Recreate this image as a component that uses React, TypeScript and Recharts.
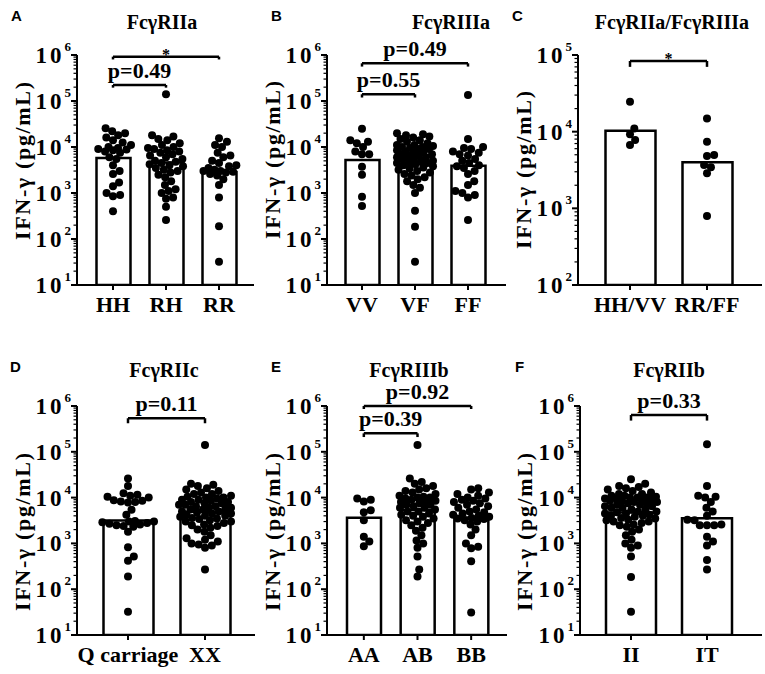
import React from "react";
import { ComposedChart, Bar, Scatter, XAxis, YAxis, ReferenceLine, Label } from "recharts";

const serif = "'Liberation Serif', 'Times New Roman', serif";
const sans = "'Liberation Sans', Arial, sans-serif";

// ---- data ----
const catsA = ["HH", "RH", "RR"];
const barsA = [5800, 4600, 2850];
const hhA = [25500, 22000, 20000, 18000, 16000, 14000, 12500, 11000, 10000, 9500, 9000, 8800, 8500, 8000, 7500, 6000, 5500, 4000, 3000, 2600, 1700, 1400, 1000, 900, 850, 400];
const rhA = [140000, 18000, 17000, 15000, 14000, 12000, 11000, 10000, 9500, 9000, 8500, 8000, 7500, 7000, 6500, 6000, 5500, 5000, 4800, 4500, 4200, 4000, 3800, 3500, 3200, 3000, 2800, 2500, 2200, 1800, 1500, 1200, 1100, 1000, 800, 750, 500, 260];
const rrA = [15500, 13000, 11000, 10000, 7500, 6500, 6000, 5000, 4500, 4000, 3800, 3500, 3200, 3000, 3000, 2900, 2800, 2600, 2400, 2000, 1500, 800, 190, 32];

const catsB = ["VV", "VF", "FF"];
const barsB = [5200, 4200, 3900];
const vvB = [25000, 14000, 13000, 12000, 10000, 8000, 7000, 7000, 3700, 2500, 830, 520];
const vfB = [20000, 19000, 18000, 17000, 16000, 15000, 14000, 13000, 12000, 11000, 11000, 10500, 10000, 10000, 9500, 9000, 9000, 8500, 8000, 8000, 7500, 7000, 7000, 6500, 6500, 6000, 6000, 5500, 5500, 5000, 5000, 4800, 4500, 4500, 4200, 4000, 3800, 3600, 3400, 3200, 3000, 2800, 2600, 2400, 2200, 2000, 1800, 1500, 1300, 1000, 410, 185, 32];
const ffB = [135000, 15000, 10000, 9500, 9000, 8000, 7500, 7000, 6500, 5500, 5000, 4500, 4000, 3800, 3500, 3000, 2600, 1800, 1500, 1100, 1000, 900, 800, 260];

const catsC = ["HH/VV", "RR/FF"];
const barsC = [10300, 4000];
const hhvvC = [24600, 11000, 9250, 7800, 6700];
const rrffC = [14900, 7400, 4970, 4820, 3680, 3440, 2870, 795];

const catsD = ["Q carriage", "XX"];
const barsD = [3150, 4940];
const qD = [26000, 18000, 12500, 11500, 11000, 10500, 10000, 8800, 8500, 8200, 8000, 7800, 5400, 4200, 3100, 3000, 3000, 2900, 2800, 2700, 2600, 2500, 2400, 2300, 1800, 820, 520, 420, 190, 32];
const xxD = [140000, 20000, 19000, 18000, 16000, 15000, 14000, 13000, 12000, 12000, 11000, 10500, 10000, 10000, 9500, 9000, 9000, 8500, 8000, 8000, 7500, 7500, 7000, 7000, 6500, 6500, 6000, 6000, 5800, 5500, 5500, 5000, 5000, 4800, 4500, 4500, 4200, 4000, 4000, 3800, 3600, 3500, 3400, 3200, 3000, 3000, 2800, 2600, 2500, 2400, 2200, 2000, 1800, 1500, 1300, 1200, 1100, 1000, 950, 900, 800, 270];

const catsE = ["AA", "AB", "BB"];
const barsE = [3650, 5380, 3700];
const aaE = [9500, 9000, 8200, 5300, 4800, 3200, 1400, 1100, 870];
const abE = [140000, 26000, 22000, 20000, 18000, 16000, 15000, 14000, 13000, 12000, 11000, 10500, 10000, 10000, 9500, 9000, 8500, 8000, 8000, 7500, 7000, 7000, 6500, 6000, 6000, 5500, 5000, 5000, 4500, 4200, 4000, 3800, 3500, 3200, 3000, 2800, 2500, 2200, 1900, 1500, 1150, 1000, 800, 520, 270, 190];
const bbE = [16000, 15000, 13000, 12000, 11000, 10000, 9500, 9000, 8500, 8000, 7500, 7000, 6500, 6000, 5500, 5000, 4800, 4500, 4200, 4000, 3800, 3600, 3500, 3400, 3200, 3000, 2600, 2000, 1500, 1000, 850, 780, 410, 31];

const catsF = ["II", "IT"];
const barsF = [4700, 3540];
const iiF = [25000, 20000, 18000, 17000, 16000, 15000, 14000, 13000, 12000, 12000, 11000, 11000, 10500, 10000, 10000, 10000, 9500, 9500, 9000, 9000, 8500, 8500, 8000, 8000, 7500, 7500, 7000, 7000, 6500, 6500, 6000, 6000, 5500, 5500, 5000, 5000, 4800, 4500, 4500, 4200, 4000, 4000, 3800, 3600, 3500, 3300, 3200, 3000, 3000, 2800, 2600, 2500, 2300, 2000, 1800, 1500, 1200, 1000, 900, 800, 520, 185, 32];
const itF = [146000, 17900, 11000, 10500, 10000, 8000, 6000, 5000, 4000, 3300, 3200, 2600, 2500, 2500, 2500, 1400, 1100, 900, 435, 270];

type Bracket = { from: number; to: number; y: number; end: number; text: string };

const bracketsA: Bracket[] = [
  { from: 1, to: 3, y: 9.2e5, end: 8.0e5, text: "*" },
  { from: 1, to: 2, y: 2.23e5, end: 1.95e5, text: "p=0.49" },
];
const bracketsB: Bracket[] = [
  { from: 1, to: 3, y: 6.6e5, end: 5.6e5, text: "p=0.49" },
  { from: 1, to: 2, y: 1.4e5, end: 1.19e5, text: "p=0.55" },
];
const bracketsC: Bracket[] = [{ from: 1, to: 2, y: 8.35e4, end: 7.0e4, text: "*" }];
const bracketsD: Bracket[] = [{ from: 1, to: 2, y: 5.4e5, end: 4.2e5, text: "p=0.11" }];
const bracketsE: Bracket[] = [
  { from: 1, to: 3, y: 1e6, end: 8.6e5, text: "p=0.92" },
  { from: 1, to: 2, y: 2.53e5, end: 2.1e5, text: "p=0.39" },
];
const bracketsF: Bracket[] = [{ from: 1, to: 2, y: 6.35e5, end: 4.8e5, text: "p=0.33" }];

// ---- layout ----
type Panel = {
  letter: string;
  title: string;
  left: number;
  top: number;
  width: number;
  height: number;
  mt: number;
  xh: number;
  yw: number;
  padL: number;
  padR: number;
  barSize: number;
  domain: [number, number];
  cats: string[];
  bars: number[];
  groups: number[][];
  brackets: Bracket[];
};

const panels: Panel[] = [
  { letter: "A", title: "FcγRIIa", left: 0, top: 0, width: 256, height: 318, mt: 55, xh: 33, yw: 77, padL: 9.5, padR: 8.5, barSize: 34, domain: [10, 1e6], cats: catsA, bars: barsA, groups: [hhA, rhA, rrA], brackets: bracketsA },
  { letter: "B", title: "FcγRIIIa", left: 250, top: 0, width: 258, height: 318, mt: 55, xh: 33, yw: 77, padL: 8.5, padR: 11.5, barSize: 34, domain: [10, 1e6], cats: catsB, bars: barsB, groups: [vvB, vfB, ffB], brackets: bracketsB },
  { letter: "C", title: "FcγRIIa/FcγRIIIa", left: 505, top: 0, width: 259, height: 318, mt: 55, xh: 33, yw: 73, padL: 13.5, padR: 16.5, barSize: 50, domain: [100, 1e5], cats: catsC, bars: barsC, groups: [hhvvC, rrffC], brackets: bracketsC },
  { letter: "D", title: "FcγRIIc", left: 0, top: 320, width: 257, height: 354, mt: 86, xh: 39, yw: 77, padL: 12.5, padR: 11.5, barSize: 50, domain: [10, 1e6], cats: catsD, bars: barsD, groups: [qD, xxD], brackets: bracketsD },
  { letter: "E", title: "FcγRIIIb", left: 250, top: 320, width: 259, height: 354, mt: 86, xh: 39, yw: 77, padL: 10, padR: 9, barSize: 34, domain: [10, 1e6], cats: catsE, bars: barsE, groups: [aaE, abE, bbE], brackets: bracketsE },
  { letter: "F", title: "FcγRIIb", left: 505, top: 320, width: 259, height: 354, mt: 86, xh: 39, yw: 75, padL: 13, padR: 17, barSize: 50, domain: [10, 1e6], cats: catsF, bars: barsF, groups: [iiF, itF], brackets: bracketsF },
];

const DOT_R = 4;

// beeswarm with a maximum half-width; returns horizontal offsets in pixels
function swarm(values: number[], pxPerDecade: number, dist: number, maxOff: number): number[] {
  const ys = values.map((v) => Math.log10(v) * pxPerDecade);
  const order = ys.map((_, i) => i).sort((a, b) => ys[a] - ys[b]);
  const placed: { x: number; y: number }[] = [];
  const xs = new Array(values.length).fill(0);
  for (const i of order) {
    const y = ys[i];
    const near = placed.filter((p) => Math.abs(p.y - y) < dist);
    const cands = [0];
    for (const p of near) {
      const dx = Math.sqrt(dist * dist - (p.y - y) ** 2);
      cands.push(p.x + dx, p.x - dx);
    }
    cands.sort((a, b) => Math.abs(a) - Math.abs(b));
    const ok = cands.filter(
      (c) => Math.abs(c) <= maxOff && near.every((p) => (p.x - c) ** 2 + (p.y - y) ** 2 >= dist * dist - 1e-6)
    );
    let x = 0;
    if (ok.length) {
      x = ok[0];
    } else {
      let best = -1;
      for (let c = -maxOff; c <= maxOff; c += 0.5) {
        const m = Math.min(...near.map((p) => (p.x - c) ** 2 + (p.y - y) ** 2));
        if (m > best) {
          best = m;
          x = c;
        }
      }
    }
    xs[i] = x;
    placed.push({ x, y });
  }
  return xs;
}

function logTicks(lo: number, hi: number): number[] {
  const out: number[] = [];
  for (let d = lo; d < hi; d *= 10) {
    for (let k = 1; k < 10; k++) out.push(d * k);
  }
  out.push(hi);
  return out;
}

function LogTick(props: any) {
  const { x, y, payload } = props;
  const lg = Math.log10(payload.value);
  const e = Math.round(lg);
  const major = Math.abs(lg - e) < 1e-6;
  return (
    <g>
      <line x1={x - (major ? 6 : 3.5)} x2={x} y1={y} y2={y} stroke="#000" strokeWidth={major ? 2 : 1.2} />
      {major && (
        <text x={x - 6} y={y} textAnchor="end" dominantBaseline="central" fontFamily={serif} fontWeight="bold" fill="#000">
          <tspan fontSize={23} letterSpacing={3}>10</tspan>
          <tspan fontSize={13} dy={-9}>{e}</tspan>
        </text>
      )}
    </g>
  );
}

function PanelChart({ p }: { p: Panel }) {
  const n = p.cats.length;
  const plotH = p.height - p.mt - p.xh;
  const plotW = p.width - 2 - p.yw;
  const decades = Math.log10(p.domain[1] / p.domain[0]);
  const bandPx = (plotW - p.padL - p.padR) / n;
  const barData = p.cats.map((name, i) => ({ name, y: p.bars[i] }));
  const points = p.groups.flatMap((vals, gi) => {
    const offs = swarm(vals, plotH / decades, DOT_R * 1.8, p.barSize / 2 + 1);
    return vals.map((v, j) => ({ x: gi + 1 + offs[j] / bandPx, y: v }));
  });

  return (
    <div style={{ position: "absolute", left: p.left, top: p.top }}>
      <ComposedChart width={p.width} height={p.height} data={barData} margin={{ top: p.mt, right: 2, bottom: 0, left: 0 }}>
        <XAxis
          dataKey="name"
          height={p.xh}
          padding={{ left: p.padL, right: p.padR }}
          stroke="#000"
          axisLine={{ stroke: "#000", strokeWidth: 2 }}
          tickLine={{ stroke: "#000", strokeWidth: 2 }}
          tickSize={5}
          tickMargin={6}
          interval={0}
          tick={{ fill: "#000", fontSize: 22, fontWeight: "bold", fontFamily: serif }}
        />
        <XAxis xAxisId="num" type="number" dataKey="x" domain={[0.5, n + 0.5]} padding={{ left: p.padL, right: p.padR }} allowDataOverflow hide />
        <YAxis
          dataKey="y"
          type="number"
          scale="log"
          domain={p.domain}
          allowDataOverflow
          ticks={logTicks(p.domain[0], p.domain[1])}
          interval={0}
          width={p.yw}
          tickSize={0}
          tickMargin={0}
          tickLine={false}
          axisLine={{ stroke: "#000", strokeWidth: 2 }}
          tick={<LogTick />}
        />
        <Bar dataKey="y" fill="#fff" stroke="#000" strokeWidth={2.5} barSize={p.barSize} isAnimationActive={false} />
        <Scatter
          xAxisId="num"
          data={points}
          dataKey="y"
          fill="#000"
          isAnimationActive={false}
          shape={(s: any) => <circle cx={s.cx} cy={s.cy} r={DOT_R} fill="#000" />}
        />
        {p.brackets.map((b, i) => (
          <ReferenceLine
            key={`h${i}`}
            xAxisId="num"
            ifOverflow="visible"
            segment={[{ x: b.from, y: b.y }, { x: b.to, y: b.y }]}
            stroke="#000"
            strokeWidth={2.5}
          >
            <Label
              content={(lp: any) => {
                const vb = lp.viewBox || {};
                const star = b.text === "*";
                return (
                  <text
                    x={vb.x + (vb.width || 0) / 2}
                    y={star ? vb.y + 3 : vb.y - 7}
                    textAnchor="middle"
                    fontFamily={serif}
                    fontWeight="bold"
                    fontSize={star ? 16 : 22}
                    fill="#000"
                  >
                    {b.text}
                  </text>
                );
              }}
            />
          </ReferenceLine>
        ))}
        {p.brackets.flatMap((b, i) =>
          [b.from, b.to].map((xv, k) => (
            <ReferenceLine
              key={`v${i}-${k}`}
              xAxisId="num"
              ifOverflow="visible"
              segment={[{ x: xv, y: b.y }, { x: xv, y: b.end }]}
              stroke="#000"
              strokeWidth={2.5}
            />
          ))
        )}
      </ComposedChart>
    </div>
  );
}

const yLabelPos = [
  { x: 22, y: 161 },
  { x: 272, y: 160 },
  { x: 523, y: 170 },
  { x: 22, y: 532 },
  { x: 272, y: 532 },
  { x: 524, y: 532 },
];
const titlePos = [
  { x: 162, y: 29 },
  { x: 451, y: 29 },
  { x: 672, y: 29 },
  { x: 164, y: 377 },
  { x: 409, y: 377 },
  { x: 669, y: 377 },
];
const letterPos = [
  { x: 11, y: 21 },
  { x: 271, y: 21 },
  { x: 512, y: 21 },
  { x: 10, y: 372 },
  { x: 271, y: 372 },
  { x: 515, y: 372 },
];

export default function App() {
  return (
    <div style={{ position: "absolute", left: 0, top: 0, width: 765, height: 674, background: "#fff", overflow: "hidden" }}>
      {panels.map((p) => (
        <PanelChart key={p.letter} p={p} />
      ))}
      <svg width={765} height={674} style={{ position: "absolute", left: 0, top: 0, pointerEvents: "none" }}>
        {panels.map((p, i) => (
          <g key={p.letter}>
            <text x={letterPos[i].x} y={letterPos[i].y} fontFamily={sans} fontWeight="bold" fontSize={15} fill="#000">
              {p.letter}
            </text>
            <text x={titlePos[i].x} y={titlePos[i].y} textAnchor="middle" fontFamily={serif} fontWeight="bold" fontSize={20} fill="#000">
              {p.title}
            </text>
            <text
              transform={`translate(${yLabelPos[i].x},${yLabelPos[i].y}) rotate(-90)`}
              textAnchor="middle"
              dominantBaseline="central"
              fontFamily={serif}
              fontWeight="bold"
              fontSize={22}
              fill="#000"
              textLength={158}
              lengthAdjust="spacing"
            >
              IFN-γ (pg/mL)
            </text>
          </g>
        ))}
      </svg>
    </div>
  );
}
